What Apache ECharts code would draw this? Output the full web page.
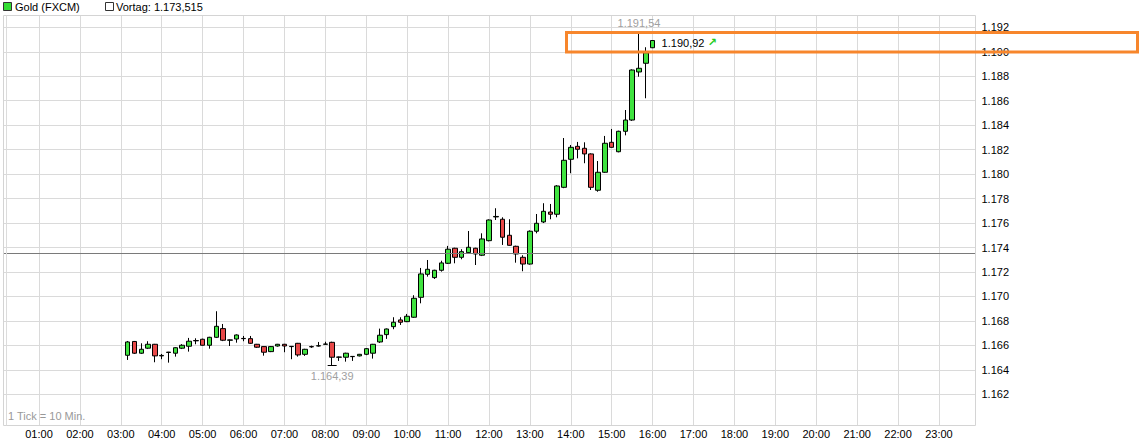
<!DOCTYPE html>
<html>
<head>
<meta charset="utf-8">
<script src="https://cdn.jsdelivr.net/npm/echarts@6/dist/echarts.min.js"></script>
<style>
html,body{margin:0;padding:0;background:#fff;}
#chart{width:1141px;height:447px;}
</style>
</head>
<body>
<div id="chart"></div>
<script>
// ---- data (10-minute candles) ----
const times = ['03:10','03:20','03:30','03:40','03:50','04:00','04:10','04:20','04:30','04:40','04:50',
'05:00','05:10','05:20','05:30','05:40','05:50','06:00','06:10','06:20','06:30','06:40','06:50',
'07:00','07:10','07:20','07:30','07:40','07:50','08:00','08:10','08:20','08:30','08:40','08:50',
'09:00','09:10','09:20','09:30','09:40','09:50','10:00','10:10','10:20','10:30','10:40','10:50',
'11:00','11:10','11:20','11:30','11:40','11:50','12:00','12:10','12:20','12:30','12:40','12:50',
'13:00','13:10','13:20','13:30','13:40','13:50','14:00','14:10','14:20','14:30','14:40','14:50',
'15:00','15:10','15:20','15:30','15:40','15:50','16:00'];
const open = [1.16519,1.16632,1.16536,1.16577,1.16609,1.16514,1.16542,1.16536,1.16577,1.16593,1.16637,
1.16650,1.16601,1.16666,1.16737,1.16642,1.16652,1.16657,1.16655,1.16609,1.16590,1.16549,1.16595,
1.16609,1.16590,1.16617,1.16527,1.16590,1.16595,1.16609,1.16625,1.16503,1.16503,1.16508,1.16514,
1.16527,1.16536,1.16628,1.16688,1.16753,1.16808,1.16794,1.16830,1.16993,1.17181,1.17154,1.17214,
1.17271,1.17394,1.17320,1.17358,1.17394,1.17337,1.17456,1.17650,1.17631,1.17500,1.17410,1.17320,
1.17265,1.17533,1.17609,1.17690,1.17672,1.17892,1.18121,1.18227,1.18211,1.18165,1.17868,1.18015,
1.18260,1.18183,1.18350,1.18442,1.18835,1.18906,1.19033];
const close = [1.16628,1.16536,1.16568,1.16609,1.16514,1.16518,1.16545,1.16581,1.16601,1.16634,1.16640,
1.16601,1.16666,1.16756,1.16642,1.16645,1.16685,1.16655,1.16617,1.16585,1.16544,1.16590,1.16609,
1.16595,1.16592,1.16522,1.16568,1.16588,1.16597,1.16611,1.16503,1.16505,1.16536,1.16510,1.16527,
1.16573,1.16609,1.16683,1.16734,1.16789,1.16789,1.16838,1.16985,1.17184,1.17222,1.17214,1.17274,
1.17386,1.17320,1.17366,1.17402,1.17347,1.17470,1.17625,1.17654,1.17484,1.17418,1.17347,1.17265,
1.17533,1.17598,1.17696,1.17672,1.17903,1.18113,1.18219,1.18203,1.18165,1.17892,1.18015,1.18252,
1.18219,1.18350,1.18442,1.18851,1.18865,1.18992,1.19092];
const low = [1.16481,1.16530,1.16530,1.16570,1.16462,1.16487,1.16459,1.16508,1.16570,1.16549,1.16609,
1.16598,1.16573,1.16660,1.16635,1.16595,1.16622,1.16634,1.16612,1.16580,1.16516,1.16545,1.16590,
1.16544,1.16487,1.16508,1.16514,1.16580,1.16590,1.16605,1.16439,1.16473,1.16467,1.16473,1.16510,
1.16520,1.16492,1.16620,1.16653,1.16732,1.16767,1.16790,1.16825,1.16944,1.17162,1.17143,1.17203,
1.17265,1.17271,1.17304,1.17355,1.17257,1.17330,1.17450,1.17625,1.17421,1.17415,1.17276,1.17206,
1.17260,1.17516,1.17600,1.17631,1.17647,1.17885,1.18007,1.18129,1.18089,1.17870,1.17856,1.18010,
1.18215,1.18178,1.18317,1.18435,1.18796,1.18620,1.19030];
const high = [1.16636,1.16636,1.16617,1.16634,1.16612,1.16530,1.16547,1.16585,1.16610,1.16661,1.16658,
1.16655,1.16670,1.16879,1.16775,1.16648,1.16690,1.16677,1.16677,1.16612,1.16592,1.16595,1.16612,
1.16612,1.16595,1.16620,1.16572,1.16598,1.16628,1.16630,1.16630,1.16508,1.16540,1.16512,1.16530,
1.16578,1.16612,1.16737,1.16738,1.16830,1.16830,1.16857,1.17010,1.17233,1.17298,1.17218,1.17292,
1.17413,1.17398,1.17386,1.17535,1.17398,1.17516,1.17630,1.17721,1.17647,1.17631,1.17415,1.17337,
1.17540,1.17674,1.17762,1.17756,1.17910,1.18295,1.18238,1.18263,1.18260,1.18170,1.18107,1.18312,
1.18369,1.18355,1.18524,1.18856,1.19154,1.19037,1.19095];

const hourLabels = ['01:00','02:00','03:00','04:00','05:00','06:00','07:00','08:00','09:00','10:00','11:00','12:00',
'13:00','14:00','15:00','16:00','17:00','18:00','19:00','20:00','21:00','22:00','23:00'];
const priceTicks = [1.162,1.164,1.166,1.168,1.170,1.172,1.174,1.176,1.178,1.180,1.182,1.184,1.186,1.188,1.190,1.192];
const prevClose = 1.173515;
const highInfo = {time:'15:40', value:1.19154, text:'1.191,54'};
const lowInfo = {time:'08:10', value:1.16439, text:'1.164,39'};
const lastInfo = {time:'16:00', value:1.19092, text:'1.190,92'};

// ---- helpers ----
function toMin(s){const p=s.split(':');return (+p[0])*60+(+p[1]);}
function fmtMin(m){const h=Math.floor(m/60),mm=Math.round(m%60);return (h<10?'0':'')+h+':'+(mm<10?'0':'')+mm;}
const hourVals = hourLabels.map(toMin);
const candles = times.map((t,i)=>[toMin(t), open[i], close[i], low[i], high[i]]);

const X_MIN = 7.93, X_MAX = 1433.6;
const FONT = '"Liberation Sans", Arial, sans-serif';
const GRID_COLOR = '#dadada';

const chart = echarts.init(document.getElementById('chart'), null, {renderer:'svg'});
chart.setOption({
  animation:false,
  backgroundColor:'#fff',
  grid:{left:3.5, top:15.5, right:165.5, bottom:21.5, containLabel:false},
  xAxis:{
    type:'value', min:X_MIN, max:X_MAX,
    axisLine:{show:false},
    axisTick:{show:false, customValues:hourVals},
    axisLabel:{customValues:hourVals, formatter:v=>fmtMin(v), color:'#000', fontSize:11, fontFamily:FONT, margin:3},
    splitLine:{show:true, lineStyle:{color:GRID_COLOR, width:1}}
  },
  yAxis:{
    type:'value', position:'right', min:1.159451, max:1.192965, scale:true,
    axisLine:{show:false},
    axisTick:{show:false, customValues:priceTicks},
    axisLabel:{customValues:priceTicks, formatter:v=>v.toFixed(3), color:'#000', fontSize:11, fontFamily:FONT, margin:6},
    splitLine:{show:true, lineStyle:{color:GRID_COLOR, width:1}}
  },
  series:[{
    type:'candlestick',
    data:candles,
    barWidth:5,
    itemStyle:{color:'#3fe33f', color0:'#e84848', borderColor:'#000', borderColor0:'#000', borderColorDoji:'#000', borderWidth:1},
    markLine:{
      silent:true, symbol:['none','none'], animation:false,
      label:{show:false},
      data:[
        [{coord:[X_MIN, prevClose], lineStyle:{color:'#7a7a7a', width:1, type:'solid'}},
         {coord:[X_MAX, prevClose]}],
        [{coord:[toMin(lowInfo.time)-6.6, lowInfo.value], lineStyle:{color:'#000', width:1, type:'solid'}},
         {coord:[toMin(lowInfo.time)+6.6, lowInfo.value]}]
      ]
    },
    markPoint:{
      silent:true, symbol:'circle', symbolSize:0, animation:false,
      data:[
        {coord:[toMin(highInfo.time), highInfo.value], label:{show:true, position:'top', distance:4, formatter:highInfo.text, color:'#a0a0a0', fontSize:11, fontFamily:FONT}},
        {coord:[toMin(lowInfo.time), lowInfo.value], label:{show:true, position:'bottom', distance:5, formatter:lowInfo.text, color:'#a0a0a0', fontSize:11, fontFamily:FONT}},
        {coord:[toMin(lastInfo.time), lastInfo.value], label:{show:true, position:'right', distance:9, offset:[0,2],
          formatter:'{a|'+lastInfo.text+'} {b|\u2197}',
          rich:{a:{color:'#000', fontSize:11, fontFamily:FONT}, b:{color:'#22cc22', fontSize:11, fontWeight:'bold', fontFamily:'"DejaVu Sans", sans-serif'}}}}
      ]
    }
  }],
  graphic:[
    {type:'rect', silent:true, z:100, shape:{x:3.5, y:15.5, width:972, height:410}, style:{fill:'none', stroke:'#d4d4d4', lineWidth:1}},
    {type:'line', silent:true, z:100, shape:{x1:6.5, y1:15.5, x2:6.5, y2:425.5}, style:{stroke:'#dcdcdc', lineWidth:1}},
    {type:'rect', silent:true, z:100, shape:{x:3.5, y:2.5, width:8, height:8}, style:{fill:'#33dd33', stroke:'#333', lineWidth:1}},
    {type:'text', silent:true, z:100, x:15, y:7, style:{text:'Gold (FXCM)', fill:'#000', font:'11px '+FONT, verticalAlign:'middle'}},
    {type:'rect', silent:true, z:100, shape:{x:105.5, y:2.5, width:8, height:8}, style:{fill:'#fff', stroke:'#333', lineWidth:1}},
    {type:'text', silent:true, z:100, x:116, y:7, style:{text:'Vortag: 1.173,515', fill:'#000', font:'11px '+FONT, verticalAlign:'middle'}},
    {type:'text', silent:true, z:100, x:8, y:416, style:{text:'1 Tick = 10 Min.', fill:'#999', font:'11px '+FONT, verticalAlign:'middle'}},
    {type:'rect', silent:true, z:120, shape:{x:566.5, y:32.5, width:571, height:19.5}, style:{fill:'none', stroke:'#f7862c', lineWidth:3}}
  ]
});
</script>
</body>
</html>
